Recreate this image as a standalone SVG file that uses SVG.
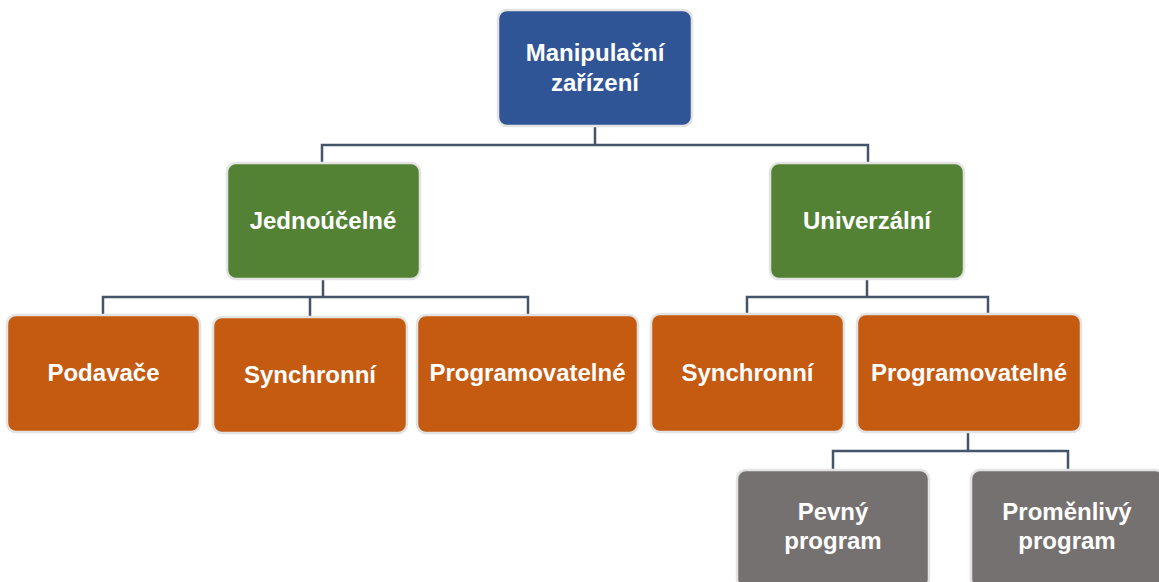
<svg xmlns="http://www.w3.org/2000/svg" width="1159" height="582" viewBox="0 0 1159 582">
<style>
.box{stroke:#e3e3e3;stroke-width:2.5}
.blue{fill:#2f5597}.green{fill:#548235}.orange{fill:#c55a11}.grey{fill:#767171}
text{font-family:"Liberation Sans",Arial,sans-serif;font-weight:bold;font-size:24px;fill:#ffffff;text-anchor:middle}
.conn path{fill:none;stroke:#44546a;stroke-width:2.5}
</style>
<rect width="1159" height="582" fill="#ffffff"/>
<g class="conn" id="connectors">
<path d="M595,126 V145 M322,163 V145 H868 V163"/>
<path d="M323,279 V297 M103,315 V297 H528 V315 M310,297 V317"/>
<path d="M867,279 V297 M747,314 V297 H988 V314"/>
<path d="M968,432 V451 M833,470 V451 H1068 V470"/>
</g>
<g id="n-manip"><rect class="box blue" x="498" y="10" width="194" height="116" rx="9"/><text x="595" y="61">Manipulační</text><text x="595" y="91">zařízení</text></g>
<g id="n-jedno"><rect class="box green" x="227" y="163" width="193" height="116" rx="9"/><text x="323" y="229">Jednoúčelné</text></g>
<g id="n-univ"><rect class="box green" x="770" y="163" width="194" height="116" rx="9"/><text x="867" y="229">Univerzální</text></g>
<g id="n-podavace"><rect class="box orange" x="7" y="315" width="193" height="117" rx="9"/><text x="103.5" y="381">Podavače</text></g>
<g id="n-sync1"><rect class="box orange" x="213" y="317" width="194" height="116" rx="9"/><text x="310" y="383">Synchronní</text></g>
<g id="n-prog1"><rect class="box orange" x="417" y="315" width="221" height="118" rx="9"/><text x="527.5" y="381">Programovatelné</text></g>
<g id="n-sync2"><rect class="box orange" x="651" y="314" width="193" height="118" rx="9"/><text x="747.5" y="381">Synchronní</text></g>
<g id="n-prog2"><rect class="box orange" x="857" y="314" width="224" height="118" rx="9"/><text x="969" y="381">Programovatelné</text></g>
<g id="n-pevny"><rect class="box grey" x="737" y="470" width="192" height="118" rx="9"/><text x="833" y="520">Pevný</text><text x="833" y="549">program</text></g>
<g id="n-promen"><rect class="box grey" x="971" y="470" width="193" height="118" rx="9"/><text x="1067" y="520">Proměnlivý</text><text x="1067" y="549">program</text></g>
</svg>
